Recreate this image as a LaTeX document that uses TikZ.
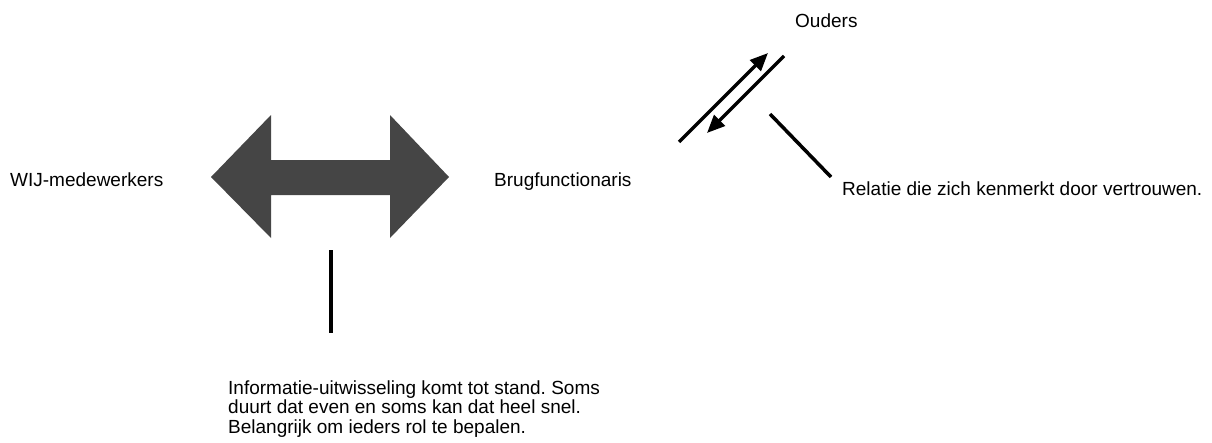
\documentclass[tikz,border=0pt]{standalone}
\usepackage{fontspec}
\setmainfont{Liberation Sans}
\usetikzlibrary{arrows.meta}
\definecolor{arrowgray}{HTML}{454545}
\frenchspacing
\begin{document}
\begin{tikzpicture}[x=1pt,y=-1pt,
  lbl/.style={anchor=base west,inner sep=0pt,font=\fontsize{19}{19.5}\selectfont},
  para/.style={lbl,align=left},
  thick line/.style={line width=3.5pt},
  tip/.style={-{Triangle[length=18pt,width=15pt]}}]
\useasboundingbox (0,0) rectangle (1212,442);
% big double arrow
\fill[arrowgray] (211,177) coordinate (al) -- (271,115) -- (271,160) -- (390,160) -- (390,115)
  -- (449,177) coordinate (ar) -- (390,238) -- (390,195) -- (271,195) -- (271,238) -- cycle;
\node[lbl] (wij) at (10,186) {WIJ-medewerkers};
\node[lbl] (brug) at (494,186) {Brugfunctionaris};
\node[lbl] (ouders) at (795,27) {Ouders};
\node[lbl] (rel) at (842,195) {Relatie die zich kenmerkt door vertrouwen.};
\node[para] (info) at (228,433) {Informatie-uitwisseling komt tot stand. Soms\\duurt dat even en soms kan dat heel snel.\\Belangrijk om ieders rol te bepalen.};
% connectors
\coordinate (v1) at (331,250);
\coordinate (v2) at (331,333);
\draw[thick line] (v1) -- (v2);
\coordinate (d1a) at (679,142);
\coordinate (d1b) at (768,53);
\draw[thick line,tip] (d1a) -- (d1b);
\coordinate (d2a) at (784,56);
\coordinate (d2b) at (707,133);
\draw[thick line,tip] (d2a) -- (d2b);
\coordinate (d3a) at (770,114);
\coordinate (d3b) at (831,177);
\draw[thick line] (d3a) -- (d3b);
\end{tikzpicture}
\end{document}
